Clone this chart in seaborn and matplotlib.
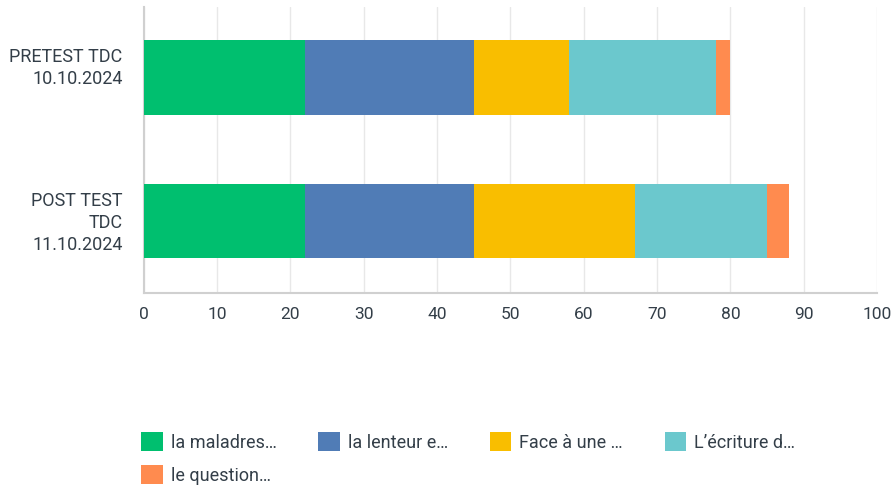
import numpy as np
import pandas as pd
import matplotlib
matplotlib.use("Agg")
import matplotlib.pyplot as plt
import seaborn as sns
from matplotlib.patches import Patch

sns.set_theme(style="white")
plt.rcParams["font.family"] = ["Roboto", "DejaVu Sans"]

groups = ["PRETEST TDC\n10.10.2024", "POST TEST\nTDC\n11.10.2024"]
answers = ["la maladres…", "la lenteur e…", "Face à une …", "L’écriture d…", "le question…"]
pretest = [22, 23, 13, 20, 2]
posttest = [22, 23, 22, 18, 3]
colors = ["#00bf6f", "#507cb6", "#f9be00", "#6bc8cd", "#ff8b4f"]
ticks = [0, 10, 20, 30, 40, 50, 60, 70, 80, 90, 100]

text_col = "#333e48"

df = pd.DataFrame({"group": groups * len(answers),
                   "answer": np.repeat(answers, len(groups)),
                   "value": np.ravel(np.column_stack([pretest, posttest]))})
df["answer"] = pd.Categorical(df["answer"], categories=answers, ordered=True)
df = df.sort_values(["group", "answer"])
df["cum"] = df.groupby("group", sort=False)["value"].cumsum()

fig = plt.figure(figsize=(8.92, 4.87), dpi=100)
ax = fig.add_axes([0.1609, 0.399, 0.8223, 0.5865])

# stacked bars: draw cumulative totals longest first so shorter ones sit on top
for ans, col in reversed(list(zip(answers, colors))):
    sub = df[df["answer"] == ans]
    sns.barplot(data=sub, x="cum", y="group", order=groups, color=col,
                orient="h", width=0.52, saturation=1, ax=ax, zorder=3,
                edgecolor="none", linewidth=0)

ax.set_xlim(0, 100)
ax.set_ylim(1.5, -0.49)
ax.set_xticks(ticks)
ax.set_xticklabels([str(t) for t in ticks], fontsize=12.5, color=text_col)
ax.set_yticks(range(len(groups)))
ax.set_yticklabels([])
ax.tick_params(axis="both", length=0)
ax.tick_params(axis="x", pad=10)
ax.set_xlabel("")
ax.set_ylabel("")

# category labels sit a bit off-centre in the original
label_dy = [9, -2]
for i, (g, dy) in enumerate(zip(groups, label_dy)):
    ax.annotate(g, xy=(0, i), xycoords=("axes fraction", "data"),
                xytext=(-21, dy), textcoords="offset pixels",
                ha="right", va="center", multialignment="right",
                fontsize=13, color=text_col, linespacing=1.3)

ax.grid(axis="x", color="#e8e8e8", linewidth=1, zorder=0)
ax.set_axisbelow(True)
for s in ["top", "right"]:
    ax.spines[s].set_visible(False)
for s in ["left", "bottom"]:
    ax.spines[s].set_color("#d0d0d0")
    ax.spines[s].set_linewidth(1.5)

handles = [Patch(facecolor=c, edgecolor="none", label=a) for a, c in zip(answers, colors)]
# legend fills column-wise, reorder so it reads row by row
order = [0, 4, 1, 2, 3]
leg = fig.legend(handles=[handles[i] for i in order], loc="upper left",
                 bbox_to_anchor=(0.158, 0.112),
                 ncol=4, frameon=False, fontsize=13, handlelength=1.2, handleheight=1.2,
                 handletextpad=0.45, columnspacing=2.3, labelspacing=0.75, borderpad=0,
                 borderaxespad=0)
for t in leg.get_texts():
    t.set_color(text_col)

fig.savefig("out.png", dpi=100)
